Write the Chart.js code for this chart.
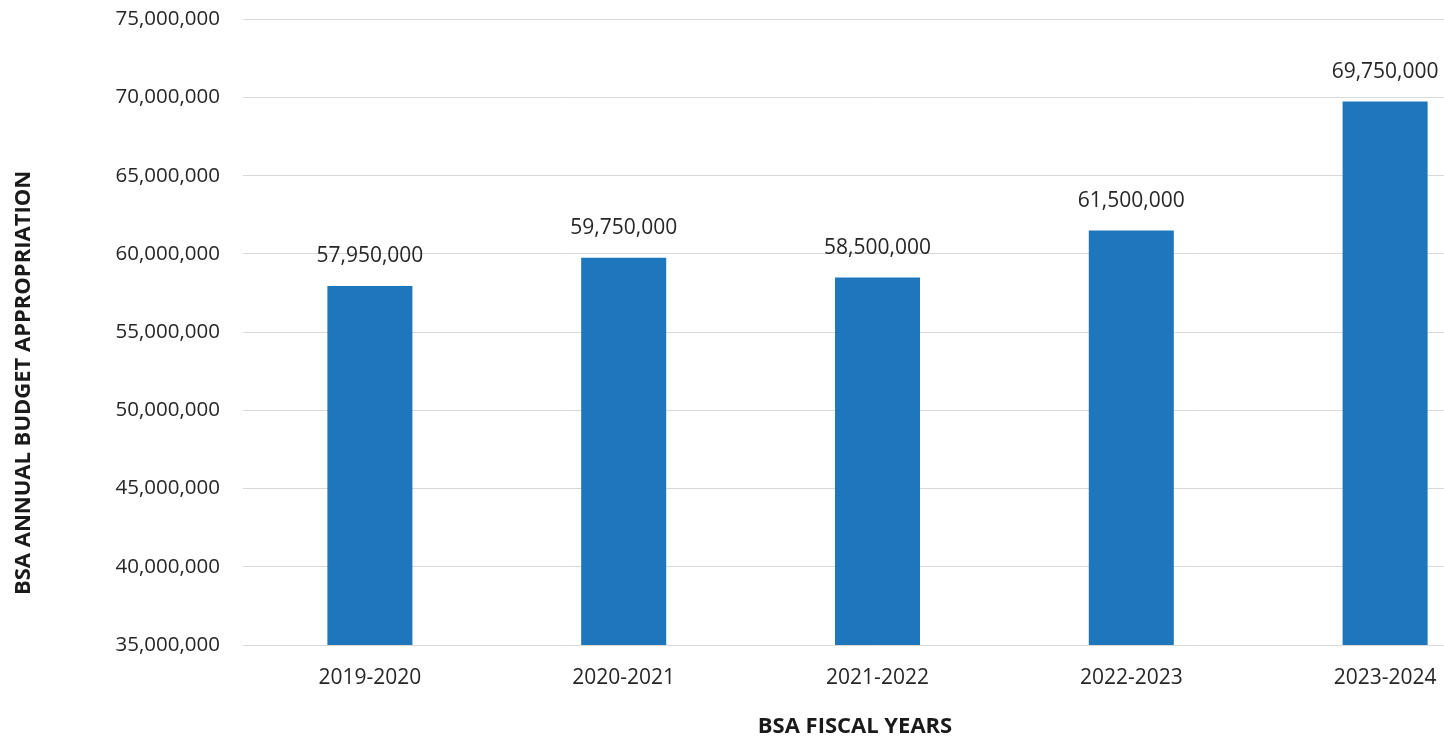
<!DOCTYPE html>
<html lang="en">
<head>
  <meta charset="UTF-8" />
  <title>BSA Annual Budget Appropriation</title>
  <script src="https://cdn.jsdelivr.net/npm/chart.js"></script>
  <style>
    html, body { margin: 0; padding: 0; background: #fff; overflow: hidden; }
    #wrap { width: 1520px; height: 759px; margin-top: -16px; }
  </style>
</head>
<body>
  <div id="wrap">
    <canvas id="budgetChart" width="1520" height="759"></canvas>
  </div>

  <script>
    // data
    const fiscalYears = ["2019-2020", "2020-2021", "2021-2022", "2022-2023", "2023-2024"];
    const appropriation = [57950000, 59750000, 58500000, 61500000, 69750000];
    const yMin = 35000000;
    const yMax = 75000000;
    const yStep = 5000000;

    const fmt = v => Number(v).toLocaleString("en-US");

    // value labels above each bar
    const barLabels = {
      id: "barLabels",
      afterDatasetsDraw(chart) {
        const ctx = chart.ctx;
        ctx.save();
        ctx.font = "21px 'Open Sans'";
        ctx.fillStyle = "#262626";
        ctx.textAlign = "center";
        ctx.textBaseline = "bottom";
        chart.getDatasetMeta(0).data.forEach((bar, i) => {
          ctx.fillText(fmt(appropriation[i]), bar.x, bar.y - 19);
        });
        ctx.restore();
      }
    };

    // axis titles, placed like the original (canvas is shifted up 16px)
    const axisTitles = {
      id: "axisTitles",
      afterDraw(chart) {
        const ctx = chart.ctx;
        ctx.save();
        ctx.font = "bold 22px 'Open Sans'";
        ctx.fillStyle = "#1a1a1a";
        ctx.textAlign = "center";
        ctx.textBaseline = "middle";
        ctx.fillText("BSA FISCAL YEARS", 855, 743);
        ctx.translate(24, 399);
        ctx.rotate(-Math.PI / 2);
        ctx.fillText("BSA ANNUAL BUDGET APPROPRIATION", 0, 0);
        ctx.restore();
      }
    };

    const ctx = document.getElementById("budgetChart").getContext("2d");
    new Chart(ctx, {
      type: "bar",
      data: {
        labels: fiscalYears,
        datasets: [{
          data: appropriation,
          backgroundColor: "#1e76bd",
          barPercentage: 0.335,
          categoryPercentage: 1.0
        }]
      },
      options: {
        responsive: false,
        animation: false,
        layout: { padding: { top: 3, right: 8, left: 0, bottom: 0 } },
        plugins: {
          legend: { display: false },
          tooltip: { enabled: false }
        },
        scales: {
          x: {
            grid: { display: false },
            border: { display: false },
            ticks: {
              color: "#262626",
              font: { family: "'Open Sans'", size: 21 },
              padding: 12
            },
            afterFit(scale) { scale.height = 98; }
          },
          y: {
            min: yMin,
            max: yMax,
            grid: { color: "#d9d9d9", drawTicks: false },
            border: { display: false },
            ticks: {
              stepSize: yStep,
              color: "#262626",
              font: { family: "'Open Sans'", size: 20.5 },
              padding: 23,
              callback: v => fmt(v)
            },
            afterFit(scale) { scale.width = 243; }
          }
        }
      },
      plugins: [barLabels, axisTitles]
    });
  </script>
</body>
</html>
